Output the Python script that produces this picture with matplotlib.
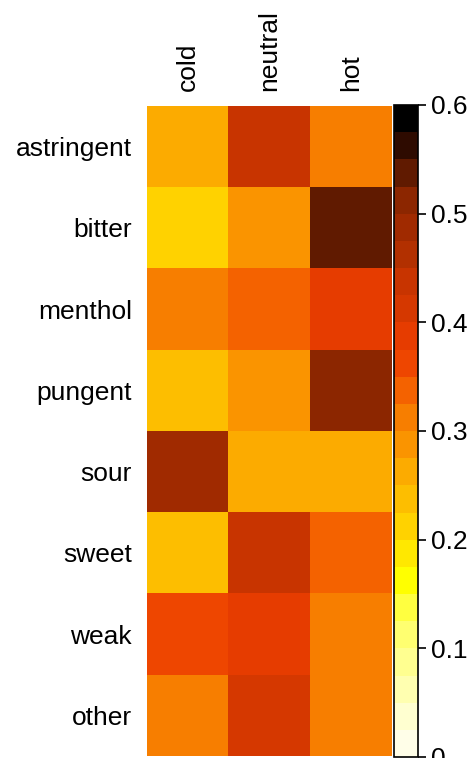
import numpy as np
import matplotlib
matplotlib.use("Agg")
import matplotlib.pyplot as plt
from matplotlib.colors import ListedColormap, BoundaryNorm

plt.rcParams['font.family'] = ['Liberation Sans', 'DejaVu Sans']

tastes = ['astringent', 'bitter', 'menthol', 'pungent', 'sour', 'sweet', 'weak', 'other']
temps = ['cold', 'neutral', 'hot']
cold = [0.26, 0.21, 0.31, 0.24, 0.49, 0.24, 0.36, 0.31]
neutral = [0.44, 0.29, 0.34, 0.29, 0.26, 0.44, 0.39, 0.41]
hot = [0.31, 0.54, 0.39, 0.51, 0.26, 0.34, 0.31, 0.31]

# 24 discrete levels, 0 -> 0.6
band_colors = ['#fffee8', '#ffffd0', '#ffffb0', '#ffff90', '#ffff70', '#ffff40',
               '#ffff00', '#ffe800', '#ffd200', '#fdbe00', '#fcab00', '#fa9400',
               '#f77e00', '#f46200', '#ee4600', '#e63c00', '#d53800', '#c83400',
               '#b23000', '#a02a00', '#8c2600', '#601a00', '#2e0b00', '#000000']
bounds = np.linspace(0, 0.6, 25)
cmap = ListedColormap(band_colors)
norm = BoundaryNorm(bounds, cmap.N)

data = np.column_stack([cold, neutral, hot])

fig = plt.figure(figsize=(4.68, 7.58), dpi=100)
ax = fig.add_axes([147 / 468, 1 - 756 / 758, 245 / 468, 650 / 758])
ax.imshow(data, cmap=cmap, norm=norm, aspect='auto', interpolation='nearest')
ax.set_xticks(range(len(temps)))
ax.set_xticklabels(temps, rotation=90, fontsize=19)
ax.set_yticks(range(len(tastes)))
ax.set_yticklabels(tastes, fontsize=19)
ax.xaxis.tick_top()
ax.tick_params(length=0, pad=11)
for s in ax.spines.values():
    s.set_visible(False)

cax = fig.add_axes([394 / 468, 1 - 757 / 758, 24 / 468, 652 / 758])
cb = fig.colorbar(plt.cm.ScalarMappable(norm=norm, cmap=cmap), cax=cax,
                  ticks=[0, 0.1, 0.2, 0.3, 0.4, 0.5, 0.6])
cb.ax.minorticks_off()
cb.ax.set_yticklabels(['0', '0.1', '0.2', '0.3', '0.4', '0.5', '0.6'])
cb.ax.tick_params(labelsize=19, length=6, width=1.2, pad=3)
cb.outline.set_linewidth(1.2)

fig.savefig('out.png', dpi=100)
